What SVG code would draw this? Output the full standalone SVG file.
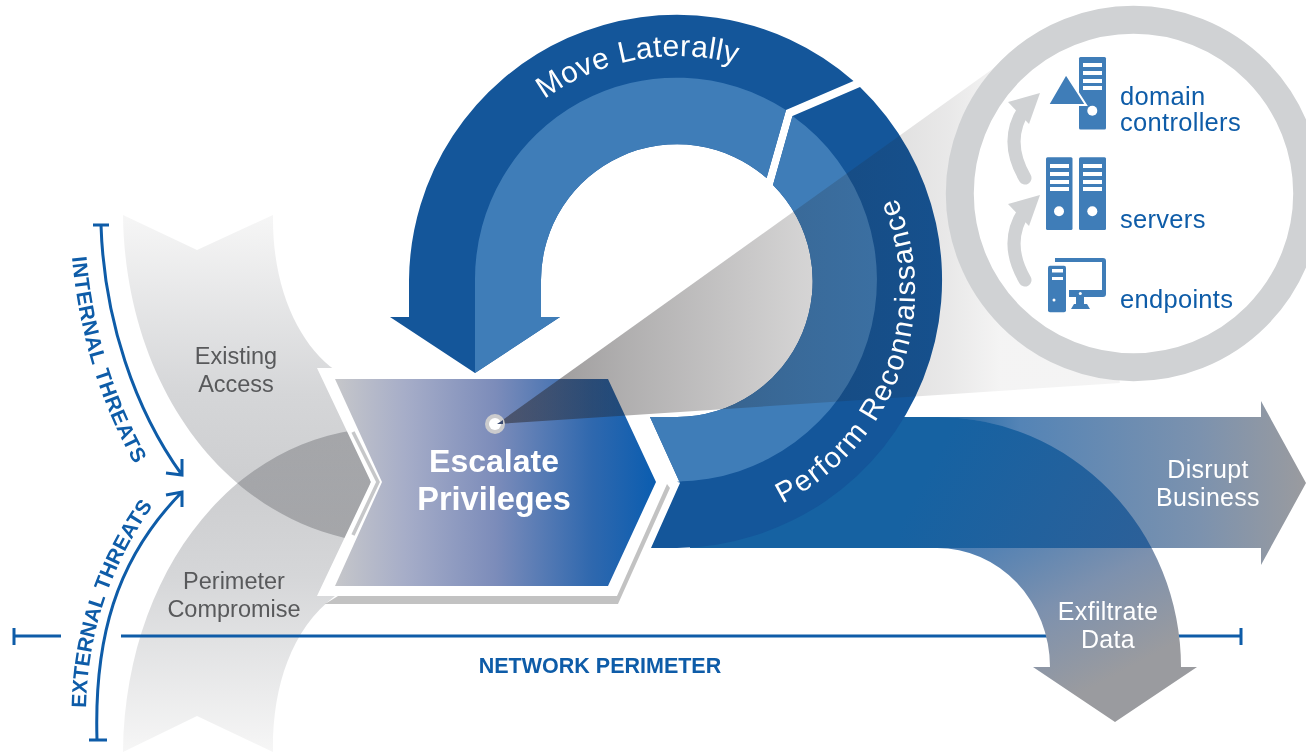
<svg xmlns="http://www.w3.org/2000/svg" width="1306" height="754" viewBox="0 0 1306 754">
<style>
text{font-family:"Liberation Sans",Arial,sans-serif}
.lbl{font-size:23.500px;fill:#58595b;text-anchor:middle}
.wh{font-size:25px;fill:#fff;text-anchor:middle;letter-spacing:.3px}
.ring{fill:#fff;font-size:30px}
.blue{fill:#0e5ca8}
.dk{fill:#14569a}
.lt{fill:#3f7db8}
.ln{fill:none;stroke:#0e5ca8;stroke-width:3}
.thr{fill:#0e5ca8;font-size:21px;font-weight:bold}
.ico{font-size:25.500px;fill:#0e5ca8;letter-spacing:.3px}
.gar{fill:none;stroke:#d0d2d4;stroke-width:13;stroke-linecap:round}
.ar{fill:#d0d2d4}
.bar{fill:#fff}
</style>
<defs>
<linearGradient id="gEx" gradientUnits="userSpaceOnUse" x1="0" y1="215" x2="0" y2="540"><stop offset="0" stop-color="#f6f6f6"/><stop offset=".55" stop-color="#d5d6d8"/><stop offset="1" stop-color="#c8c9cb"/></linearGradient>
<linearGradient id="gPe" gradientUnits="userSpaceOnUse" x1="0" y1="752" x2="0" y2="430"><stop offset="0" stop-color="#f6f6f6"/><stop offset=".55" stop-color="#d5d6d8"/><stop offset="1" stop-color="#c8c9cb"/></linearGradient>
<linearGradient id="gCh" gradientUnits="userSpaceOnUse" x1="335" y1="0" x2="656" y2="0"><stop offset="0" stop-color="#c6c7ca"/><stop offset=".22" stop-color="#a6adc8"/><stop offset=".5" stop-color="#7c8cba"/><stop offset=".8" stop-color="#2f68ae"/><stop offset="1" stop-color="#0a5db0"/></linearGradient>
<linearGradient id="gDi" gradientUnits="userSpaceOnUse" x1="930" y1="0" x2="1306" y2="0"><stop offset="0" stop-color="#1662a2"/><stop offset=".24" stop-color="#5484b6"/><stop offset=".72" stop-color="#7c92ae"/><stop offset="1" stop-color="#9a9b9f"/></linearGradient>
<linearGradient id="gXf" gradientUnits="userSpaceOnUse" x1="1040" y1="510" x2="1125" y2="670"><stop offset="0" stop-color="#4f80b4"/><stop offset=".5" stop-color="#7d91ae"/><stop offset="1" stop-color="#9a9b9f"/></linearGradient>
<linearGradient id="gOv" gradientUnits="userSpaceOnUse" x1="950" y1="430" x2="1170" y2="548"><stop offset="0" stop-color="#1662a2"/><stop offset="1" stop-color="#2e6098"/></linearGradient>
<linearGradient id="gBe" gradientUnits="userSpaceOnUse" x1="497" y1="0" x2="1000" y2="0"><stop offset="0" stop-color="#231f20" stop-opacity=".5"/><stop offset=".25" stop-color="#231f20" stop-opacity=".36"/><stop offset=".6" stop-color="#231f20" stop-opacity=".2"/><stop offset=".9" stop-color="#231f20" stop-opacity=".1"/><stop offset="1" stop-color="#231f20" stop-opacity=".05"/></linearGradient>
<clipPath id="cOv"><rect x="900" y="417" width="320" height="131"/></clipPath>
<path id="pMove" d="M453 280A224 224 0 0 1 901 280"/>
<path id="pRec" d="M677 528A238 238 0 0 0 677 52"/>
<path id="pInt" d="M72 257Q82 370 135 465T160 500"/>
<path id="pExt" d="M86 708Q88 600 150 510T175 480"/>
</defs>
<rect width="1306" height="754" fill="#fff"/>

<g id="existing-access">
<path style="mix-blend-mode:multiply" fill="url(#gEx)" d="M123 215L197 250L273 215C272 290 300 345 335 370L371 482L355 540C220 515 125 380 123 215Z"/>
<text class="lbl" x="236" y="364">Existing</text><text class="lbl" x="236" y="392">Access</text>
</g>
<g id="perimeter-compromise">
<path style="mix-blend-mode:multiply" fill="url(#gPe)" d="M123 752L197 716L273 752C272 690 290 630 335 596L371 482L355 430C220 450 125 585 123 752Z"/>
<text class="lbl" x="234" y="589">Perimeter</text><text class="lbl" x="234" y="617">Compromise</text>
</g>

<g id="connectors">
<path class="ln" d="M14 636H61M14 628V645M121 636H1241M1241 628V645"/>
<path class="ln" d="M93 225H109M101 225C104 320 135 410 182 475M166 473L182 475L182 459"/>
<path class="ln" d="M89 740H107M97 740C94 640 115 560 182 492M166 495L182 492L182 507"/>
</g>
<text id="network-perimeter" x="600" y="673" text-anchor="middle" font-weight="bold" font-size="21.500" class="blue">NETWORK PERIMETER</text>
<g id="threat-labels">
<text class="thr" letter-spacing=".6"><textPath href="#pInt">INTERNAL THREATS</textPath></text>
<text class="thr"><textPath href="#pExt">EXTERNAL THREATS</textPath></text>
</g>

<g id="escalate-privileges">
<polygon fill="#fff" points="317,368 640,368 680,483 640,596 317,596 371,482"/>
<polygon fill="#000" opacity=".24" points="667,484 670,488 618,604 325,604 338,596 617,596"/>
<polyline fill="none" stroke="#c6c7c9" stroke-width="3.500" points="353,432 378,482 353,535"/>
<polygon fill="url(#gCh)" points="335,379 608,379 656,482 608,586 335,586 382,482"/>
</g>

<g id="disrupt-business">
<path fill="url(#gDi)" d="M690 417H1261V401L1306 483L1261 565V548H690Z"/>
</g>
<g id="exfiltrate-data">
<path fill="url(#gXf)" d="M937 417A244 250 0 0 1 1181 667H1197L1115 722L1033 667H1050A113 119 0 0 0 937 548Z"/>
<path fill="url(#gOv)" clip-path="url(#cOv)" d="M900 417H937A244 250 0 0 1 1181 667H1050A113 119 0 0 0 937 548H900Z"/>
</g>

<g id="move-laterally">
<path class="dk" d="M853.5 81A268 268 0 0 0 409 280V317H390L475 373L560 317H541V280A136 136 0 0 1 766.6 178L786 110Z"/>
<path class="lt" d="M475 373L560 317H541V280A136 136 0 0 1 766.6 178L786 110A201.500 201.500 0 0 0 475 280Z"/>
</g>
<g id="perform-reconnaissance">
<path class="dk" d="M860 87A268 268 0 0 1 677 548H651L680 483L650 417H677A136 136 0 0 0 773 185L792.500 116Z"/>
<path class="lt" d="M792.500 116A201.500 201.500 0 0 1 677 481.500L680 483L650 417H677A136 136 0 0 0 773 185Z"/>
</g>

<polygon id="beam" fill="url(#gBe)" points="497,424 1040,35 1120,383"/>
<g id="target"><circle cx="495" cy="424" r="10" fill="#cbcbcd"/><circle cx="495" cy="424" r="6" fill="#fff"/><polygon fill="#3a4a70" points="497,424 503,420 503,424"/></g>

<text class="ring"><textPath href="#pMove" startOffset="210" letter-spacing=".5">Move Laterally</textPath></text>
<text class="ring" style="font-size:29px"><textPath href="#pRec" startOffset="109" letter-spacing="1.6">Perform Reconnaissance</textPath></text>

<g id="lens"><circle cx="1133.500" cy="193.500" r="173.700" fill="#fff" stroke="#d0d2d4" stroke-width="28"/></g>

<g id="escalation-arrows">
<path class="gar" d="M1025 178Q1003 140 1025 108"/><polygon class="ar" points="1040,93 1008,102 1029,124"/>
<path class="gar" d="M1025 280Q1003 242 1025 210"/><polygon class="ar" points="1040,195 1008,204 1029,226"/>
</g>

<g id="domain-controllers">
<rect class="lt" x="1079" y="57" width="27" height="72.500" rx="1.500"/>
<g class="bar"><rect x="1083" y="63" width="19" height="4"/><rect x="1083" y="71" width="19" height="4"/><rect x="1083" y="79" width="19" height="4"/><rect x="1083" y="86" width="19" height="4"/><circle cx="1092.300" cy="110.700" r="5"/></g>
<polygon class="lt" stroke="#fff" stroke-width="2" points="1066,74 1048,105 1086,105"/>
<text class="ico" x="1120" y="105">domain</text><text class="ico" x="1120" y="131">controllers</text>
</g>
<g id="servers">
<rect class="lt" x="1046" y="157.300" width="26.500" height="72.700" rx="1.500"/>
<rect class="lt" x="1079" y="157.300" width="27" height="72.700" rx="1.500"/>
<g class="bar"><rect x="1050" y="164" width="19" height="4"/><rect x="1050" y="172" width="19" height="4"/><rect x="1050" y="180" width="19" height="4"/><rect x="1050" y="187" width="19" height="4"/><circle cx="1059" cy="211.300" r="5"/><rect x="1083" y="164" width="19" height="4"/><rect x="1083" y="172" width="19" height="4"/><rect x="1083" y="180" width="19" height="4"/><rect x="1083" y="187" width="19" height="4"/><circle cx="1092.300" cy="211.300" r="5"/></g>
<text class="ico" x="1120" y="228">servers</text>
</g>
<g id="endpoints">
<path class="lt" d="M1055 258H1103Q1106 258 1106 261V294Q1106 297 1103 297H1069V290H1102V262H1055Z"/>
<rect class="lt" x="1048" y="265.700" width="18" height="46.500" rx="2"/>
<g class="bar"><rect x="1052" y="269" width="11" height="3.500"/><rect x="1052" y="277" width="11" height="3"/><circle cx="1054" cy="300" r="1.500"/><circle cx="1080.300" cy="293.500" r="1.500"/></g>
<path class="lt" d="M1076 297H1084V304H1087L1090 309H1071L1074 304H1076Z"/>
<text class="ico" x="1120" y="308">endpoints</text>
</g>

<text font-size="32" font-weight="bold" fill="#fff" text-anchor="middle" x="494" y="472">Escalate</text>
<text font-size="32.500" font-weight="bold" fill="#fff" text-anchor="middle" x="494" y="510">Privileges</text>
<text class="wh" x="1208" y="478">Disrupt</text><text class="wh" x="1208" y="506">Business</text>
<text class="wh" x="1108" y="620">Exfiltrate</text><text class="wh" x="1108" y="648">Data</text>
</svg>
